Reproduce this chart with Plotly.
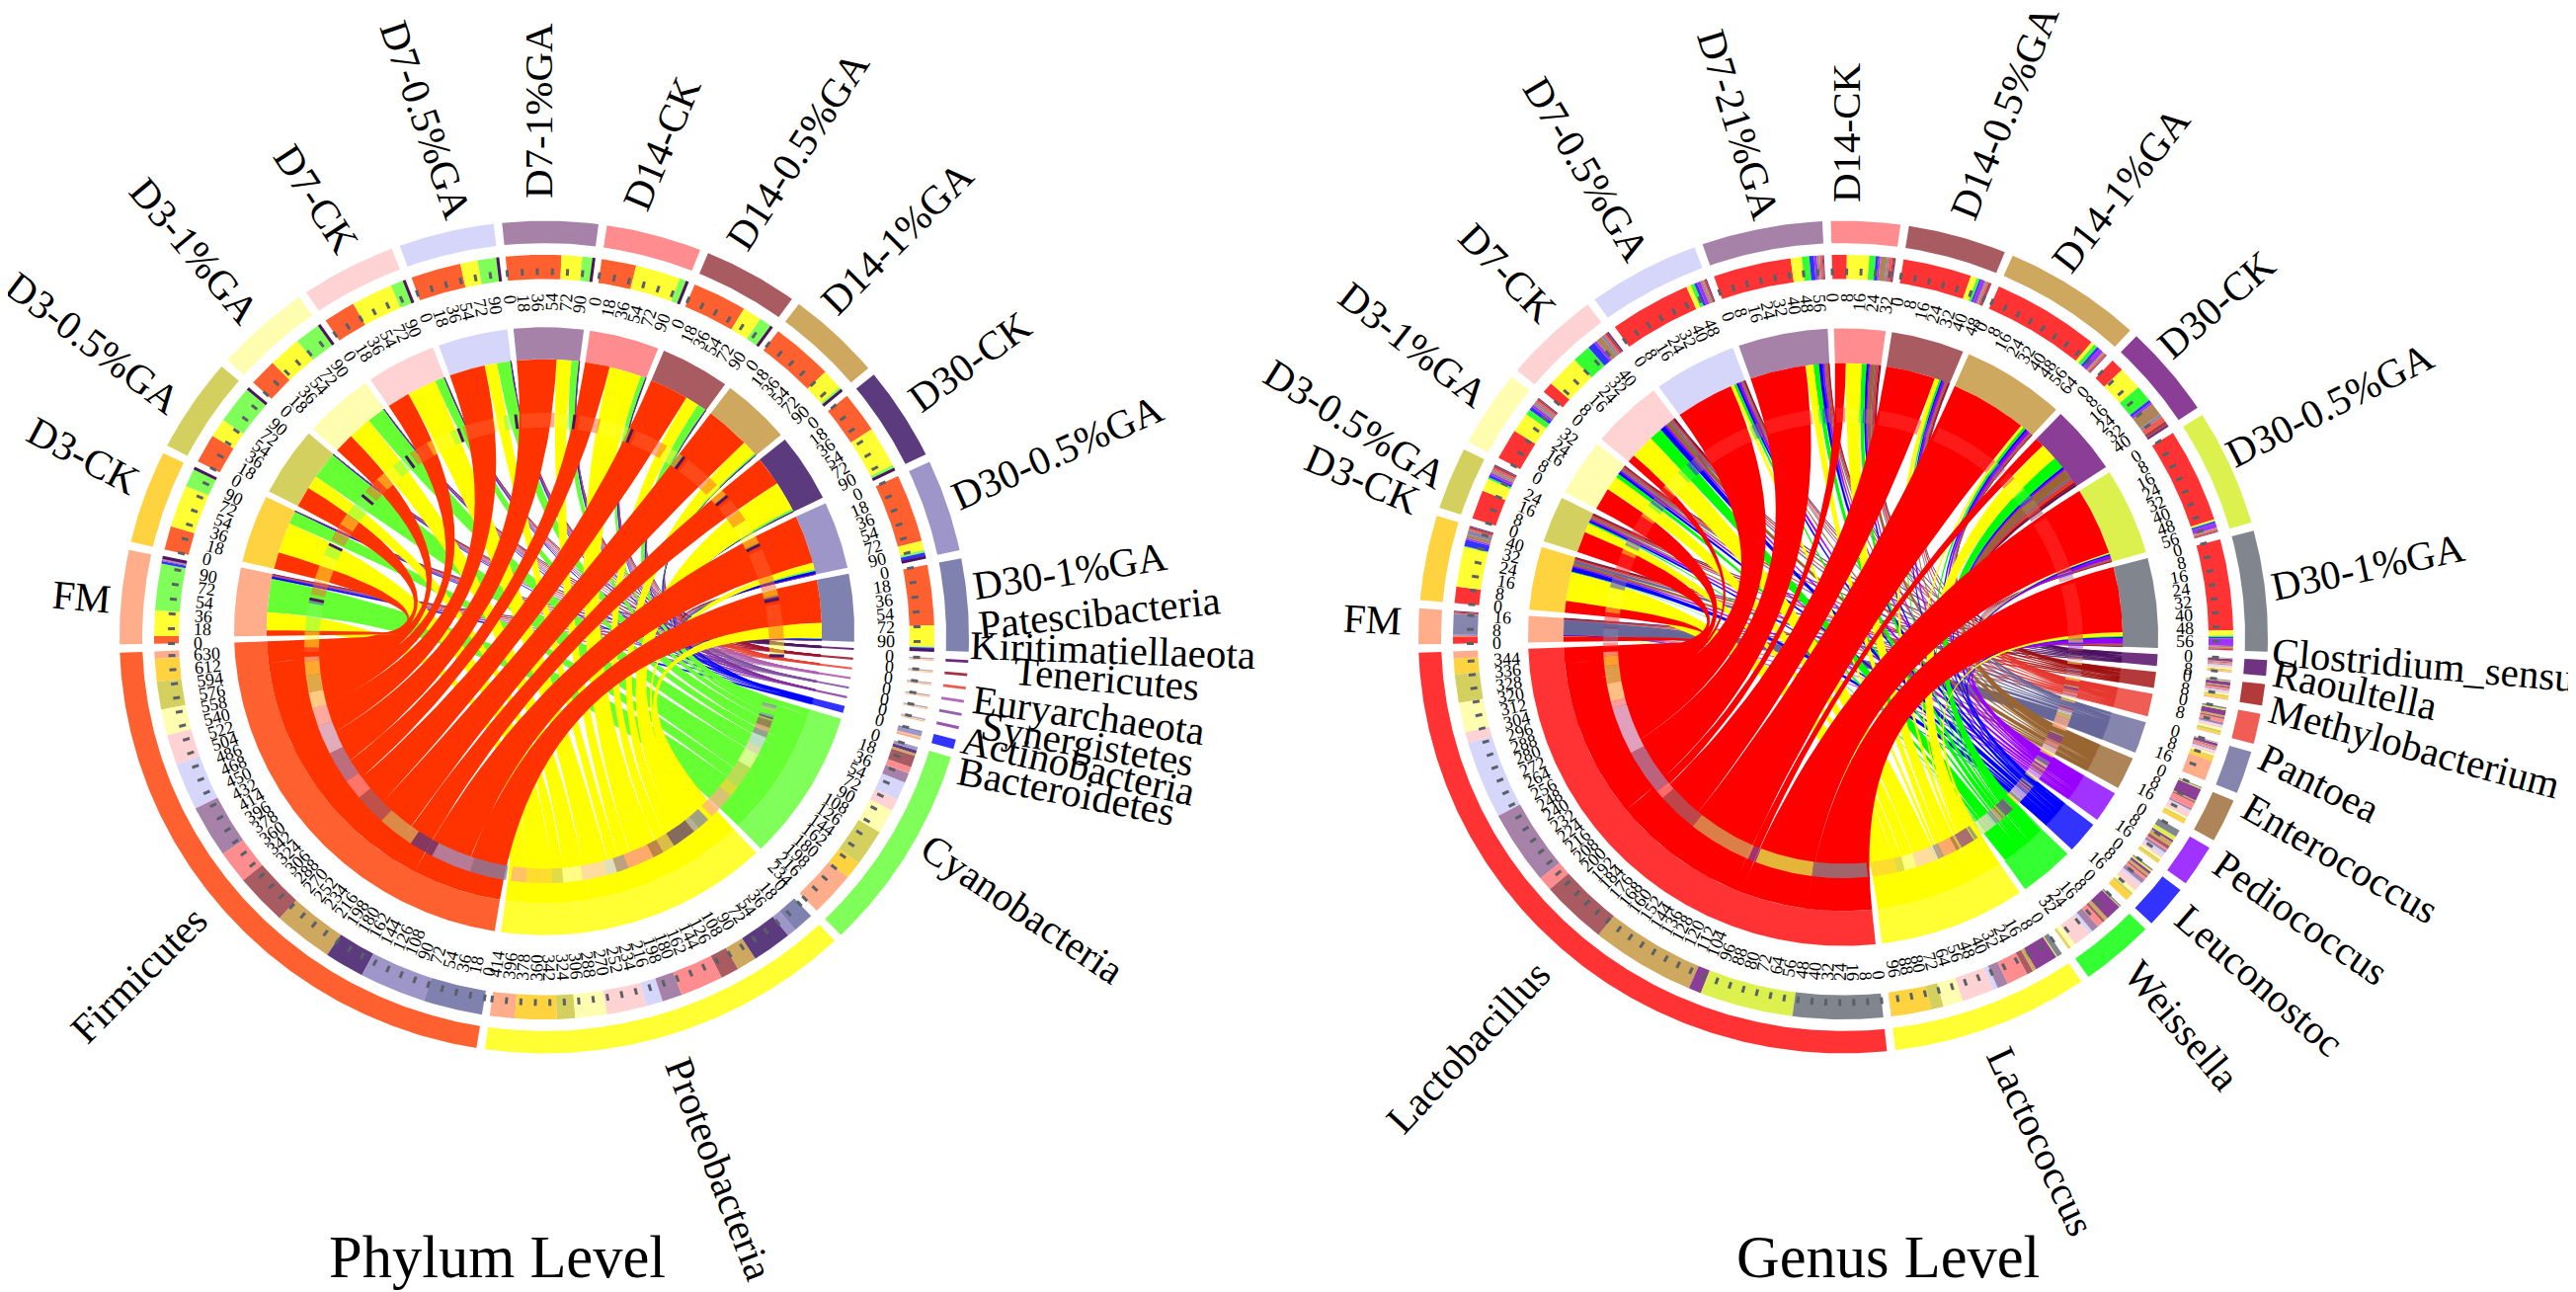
import math
import plotly.graph_objects as go

# ---------- samples ----------
phylum_samples = ["FM","D3-CK","D3-0.5%GA","D3-1%GA","D7-CK","D7-0.5%GA","D7-1%GA","D14-CK","D14-0.5%GA","D14-1%GA","D30-CK","D30-0.5%GA","D30-1%GA"]
genus_samples = ["FM","D3-CK","D3-0.5%GA","D3-1%GA","D7-CK","D7-0.5%GA","D7-21%GA","D14-CK","D14-0.5%GA","D14-1%GA","D30-CK","D30-0.5%GA","D30-1%GA"]

# ---------- phylum table: one list per taxon, one value per sample ----------
firmicutes      = [9,28,34,32,37,58,64,40,63,72,48,80,71]
proteobacteria  = [30,50,22,38,48,20,24,52,22,24,48,11,25]
cyanobacteria   = [55,21.5,45,30,15,22,12,8,14.5,3,4,3,1]
bacteroidetes   = [3,.2,.2,.1,.1,.1,.1,.2,.2,.1,.2,4.5,2]
actinobacteria  = [1.0,.2,.2,.2,.2,.2,.2,.2,.2,.2,.2,.3,.2]
synergistetes   = [.7,.2,.2,.2,.2,.2,.2,.2,.2,.2,.2,.2,.2]
euryarchaeota   = [.7,.2,.2,.2,.2,.2,.2,.2,.2,.2,.2,.2,.2]
tenericutes     = [.8,.2,.2,.2,.2,.2,.2,.2,.2,.2,.2,.2,.2]
kiritimatiellaeota = [.8,.2,.2,.2,.2,.2,.2,.2,.2,.2,.2,.2,.2]
patescibacteria = [.8,.2,.2,.2,.2,.2,.2,.2,.2,.2,.2,.2,.2]
phylum_names = ["Firmicutes","Proteobacteria","Cyanobacteria","Bacteroidetes","Actinobacteria","Synergistetes","Euryarchaeota","Tenericutes","Kiritimatiellaeota","Patescibacteria"]
phylum_table = [firmicutes,proteobacteria,cyanobacteria,bacteroidetes,actinobacteria,synergistetes,euryarchaeota,tenericutes,kiritimatiellaeota,patescibacteria]

# ---------- genus table ----------
lactobacillus   = [4,9,16,17,6,44,42,8,37,58,7,52,50]
lactococcus     = [.3,22,7,11,18,2.5,6,12,3.5,2,13,.7,3]
weissella       = [.1,.5,1,3,10,2,4,3.5,1.5,2,9,.4,.8]
leuconostoc     = [.2,3.5,1.5,2,4,1.5,2.5,1.5,1,1.5,1.5,1,.8]
pediococcus     = [.1,1,1.3,1.3,1.5,2,1.5,1,2,2.5,1.2,2.5,4]
enterococcus    = [.2,2,1,1,3.5,1,1,3.5,.8,.6,7,.6,.6]
pantoea         = [11.5,2.3,.8,1,1.5,.6,.6,1,.5,.4,1.5,.3,.3]
methylobacterium= [.4,1,1.3,1.3,1.2,.7,1.3,2,1,1,3,.8,.8]
raoultella      = [.6,1,1,.8,1,.7,.5,1,1,.5,2,.5,.5]
clostridium     = [.6,.6,.7,.6,1,.6,.5,.7,.5,.4,1.5,.3,.2]
genus_names = ["Lactobacillus","Lactococcus","Weissella","Leuconostoc","Pediococcus","Enterococcus","Pantoea","Methylobacterium","Raoultella","Clostridium_sensu"]
genus_table = [lactobacillus,lactococcus,weissella,leuconostoc,pediococcus,enterococcus,pantoea,methylobacterium,raoultella,clostridium]

# ---------- colours ----------
sample_colors = ["#FFAD8A","#FFD23F","#D4D060","#FFFDB0","#FFD2D4","#D6D6FA","#A682A8","#FF8C8E","#A85C62","#CFA860","#5C3A7E","#9E96C8","#7F82AE"]
genus_sample_colors = sample_colors[:10] + ["#8B3E96","#DCF14E","#80858E"]
phylum_ribbon = ["#FF3300","#FFFF00","#66FF33","#0000FF","#8030A0","#8050A0","#B060B0","#E84030","#A01030","#4D1460"]
phylum_ring   = ["#FF6030","#FFFF33","#80FF5A","#3333FF","#9955B0","#8F63AD","#B569B9","#EE5A50","#A83040","#6B2A7F"]
genus_ribbon  = ["#FF0000","#FFFF00","#00FF00","#0000FF","#9900FF","#996633","#666699","#E6382F","#A01010","#4C0F60"]
genus_ring    = ["#FF3333","#FFFF33","#33FF33","#3333FF","#A033FF","#AD8559","#8585AD","#EF5D55","#B33A3A","#70337F"]

# ---------- label placement (centre x, centre y, rotation) ----------
phylum_sample_labels = [(74,596,5),(76,453,28),(86,339,37),(189,246,50),(312,193,57),(423,113,71),(537,104,-90),(662,137,-67),(799,145,-57),(900,233,-45),(974,358,-36),(1062,450,-24),(1075,570,-9)]
phylum_taxon_labels  = [(132,979,-45),(720,1175,69),(1027,912,34),(1071,793,11),(1083,767,13),(1093,745,10),(1094,716,8),(1112,679,5),(1118,650,2),(1105,612,-6)]
genus_sample_labels  = [(1381,619,3),(1371,477,23),(1364,421,32),(1423,341,38),(1518,268,46),(1598,163,59),(1752,118,73),(1861,126,-90),(2021,106,-68),(2139,184,-52),(2236,300,-41),(2350,402,-27),(2389,566,-12)]
genus_taxon_labels   = [(1478,1052,-47),(2058,1147,65),(2201,1030,50),(2279,984,41),(2321,921,35),(2361,861,30),(2340,785,26),(2436,748,15),(2376,690,12),(2446,665,5)]

FONT = "Liberation Serif"
SY = 0.98
R_OUT = (407, 430); R_STACK = (370, 395); R_OVER = (228, 243)
R_TICK = (374, 381); R_LAB = 355
GAP = 1.15

fig = go.Figure()
ann = []

def col_alpha(h, a):
    return "rgba(%d,%d,%d,%.2f)" % (int(h[1:3],16), int(h[3:5],16), int(h[5:7],16), a)

def pt(c, r, deg):
    t = math.radians(deg)
    return c[0] + r*math.cos(t), c[1] - r*math.sin(t)*SY

def annulus(c, a0, a1, r0, r1):
    n = max(2, int(abs(a1-a0)/0.5)+2)
    angs = [a0 + (a1-a0)*i/(n-1) for i in range(n)]
    P = [pt(c, r1, a) for a in angs] + [pt(c, r0, a) for a in reversed(angs)]
    P.append(P[0])
    return [p[0] for p in P], [p[1] for p in P]

def add_poly(store, key, xy):
    s = store.setdefault(key, ([], []))
    s[0].extend(xy[0] + [None]); s[1].extend(xy[1] + [None])

def flush(store, lw=0, linecol=None):
    for key, (x, y) in store.items():
        fig.add_trace(go.Scatter(x=x, y=y, mode="lines", fill="toself", fillcolor=key,
                                 line=dict(width=lw, color=linecol or key), hoverinfo="skip", showlegend=False))

def bez(c, A, B, n=26):
    out = []
    for i in range(1, n):
        t = i/n
        out.append(((1-t)**2*A[0] + 2*t*(1-t)*c[0] + t*t*B[0], (1-t)**2*A[1] + 2*t*(1-t)*c[1] + t*t*B[1]))
    return out

def arc_pts(c, r, a0, a1):
    n = max(2, int(abs(a1-a0)/0.5)+2)
    return [pt(c, r, a0 + (a1-a0)*i/(n-1)) for i in range(n)]

def ribbon(c, r, a0, a1, b0, b1):
    A = arc_pts(c, r, a0, a1); B = arc_pts(c, r, b0, b1)
    P = A + bez(c, A[-1], B[0]) + B + bez(c, B[-1], A[0]) + [A[0]]
    return [p[0] for p in P], [p[1] for p in P]

def ticks(c, a_start, unit, total, step, store_x, store_y):
    v = 0
    while v <= total + 1e-9:
        a = a_start - v*unit
        p, q = pt(c, R_TICK[0], a), pt(c, R_TICK[1], a)
        store_x += [p[0], q[0], None]; store_y += [p[1], q[1], None]
        s = str(int(v))
        w = 0.5*18*len(s)
        tx, ty = pt(c, R_LAB - w/2, a)
        norm = a % 360
        rot = -norm if (norm <= 90 or norm >= 270) else 180 - norm
        if rot < -180: rot += 360
        ann.append(dict(x=tx, y=ty, text=s, showarrow=False, textangle=rot, xanchor="center", yanchor="middle",
                        font=dict(family=FONT, size=18, color="#000"), xref="x", yref="y"))
        v += step

def chord(c, samples, names, table, s_cols, rib_cols, ring_cols, step, s_lab, t_lab, stroke_last, thin_w, small_gap, r_in, in_dy, over_dy):
    ns, nt = len(samples), len(names)
    c_in = (c[0], c[1] + in_dy); c_over = (c[0], c[1] + over_dy)
    s_tot = [sum(table[t][s] for t in range(nt)) for s in range(ns)]
    t_tot = [sum(table[t]) for t in range(nt)]
    start, end = 181.0, -2.0
    su = (start - end - (ns-1)*GAP) / sum(s_tot)
    t_start = end - GAP; t_end = start + GAP - 360
    gaps = {t: (small_gap if t >= 4 else GAP) for t in range(nt)}
    tu = (t_start - t_end - sum(gaps[t] for t in range(1, nt))) / sum(t_tot)
    s_ang = []; a = start
    for s in range(ns):
        s_ang.append(a); a -= s_tot[s]*su + GAP
    t_ang = {}; a = t_start
    for t in reversed(range(nt)):
        t_ang[t] = a; a -= t_tot[t]*tu + gaps[t]
    s_seg = {}; t_seg = {}
    for s in range(ns):
        a = s_ang[s]
        for t in range(nt):
            d = table[t][s]*su; s_seg[(s,t)] = (a, a-d); a -= d
    for t in range(nt):
        a = t_ang[t]
        for s in reversed(range(ns)):
            d = table[t][s]*tu; t_seg[(s,t)] = (a, a-d); a -= d
    base = {}; over = {}
    tx, ty = [], []
    for s in range(ns):
        a0 = s_ang[s]; a1 = a0 - s_tot[s]*su
        add_poly(base, s_cols[s], annulus(c, a0, a1, *R_OUT))
        add_poly(base, s_cols[s], annulus(c_in, a0, a1, *r_in))
        for t in range(nt):
            p, q = s_seg[(s,t)]
            add_poly(base, ring_cols[t], annulus(c, p, q, *R_STACK))
            add_poly(over, col_alpha(ring_cols[t], .5), annulus(c_over, p, q, *R_OVER))
        ticks(c, a0, su, s_tot[s], step, tx, ty)
    for t in range(nt):
        a0 = t_ang[t]; a1 = a0 - t_tot[t]*tu
        add_poly(base, ring_cols[t], annulus(c, a0, a1, *R_OUT))
        add_poly(base, ring_cols[t], annulus(c_in, a0, a1, *r_in))
        for s in range(ns):
            p, q = t_seg[(s,t)]
            add_poly(base, s_cols[s], annulus(c, p, q, *R_STACK))
            add_poly(over, col_alpha(s_cols[s], .75), annulus(c_over, p, q, *R_OVER))
        ticks(c, a0, tu, t_tot[t], step, tx, ty)
    flush(base)
    for t in reversed(range(nt)):
        st = {}
        for s in range(ns):
            if table[t][s] > 0:
                add_poly(st, rib_cols[t], ribbon(c_in, r_in[0], *s_seg[(s,t)], *t_seg[(s,t)]))
        flush(st, lw=(0 if t < 3 else thin_w))
    flush(over)
    if stroke_last:
        sx, sy = [], []
        for s in range(ns):
            p, q = s_seg[(s,nt-1)]
            m = (p+q)/2
            for cc, rr in ((c, R_STACK), (c_over, R_OVER)):
                u, v = pt(cc, rr[0], m), pt(cc, rr[1], m)
                sx += [u[0], v[0], None]; sy += [u[1], v[1], None]
        fig.add_trace(go.Scatter(x=sx, y=sy, mode="lines", line=dict(width=3, color=rib_cols[nt-1]), hoverinfo="skip", showlegend=False))
    fig.add_trace(go.Scatter(x=tx, y=ty, mode="lines", line=dict(width=3, color="#5A6068"), hoverinfo="skip", showlegend=False))
    for labels, texts in ((s_lab, samples), (t_lab, names)):
        for i, nm in enumerate(texts):
            x, y, r = labels[i]
            ann.append(dict(x=x, y=y, text=nm, showarrow=False, textangle=r, xanchor="center", yanchor="middle",
                            font=dict(family=FONT, size=41, color="#000"), xref="x", yref="y"))

chord((543,637), phylum_samples, phylum_names, phylum_table, sample_colors, phylum_ribbon, phylum_ring, 18, phylum_sample_labels, phylum_taxon_labels, True, 0.5, 1.45, (281,314), -6, 11)
chord((1858,637), genus_samples, genus_names, genus_table, genus_sample_colors, genus_ribbon, genus_ring, 8, genus_sample_labels, genus_taxon_labels, False, 0.4, 1.15, (283,319), 0, 6)

for txt, x in (("Phylum Level", 495), ("Genus Level", 1903)):
    ann.append(dict(x=x, y=1264, text=txt, showarrow=False, xanchor="center", yanchor="middle", font=dict(family=FONT, size=60.5, color="#000"), xref="x", yref="y"))

fig.update_layout(width=2608, height=1308, margin=dict(l=0,r=0,t=0,b=0), paper_bgcolor="white", plot_bgcolor="white",
                  showlegend=False, annotations=ann,
                  xaxis=dict(range=[0,2608], visible=False, fixedrange=True),
                  yaxis=dict(range=[1308,0], visible=False, fixedrange=True))
fig.write_html("out.html", config={"displayModeBar": False})
